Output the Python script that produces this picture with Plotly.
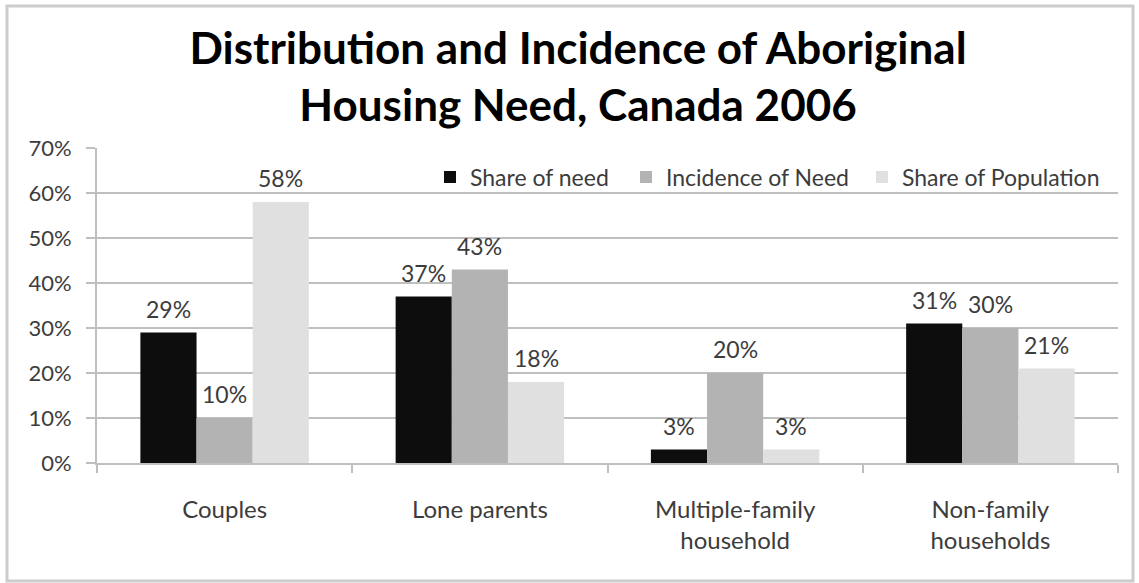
import plotly.graph_objects as go

# Household types (x categories) and the three series, in percent
categories = ["Couples", "Lone parents", "Multiple-family<br>household", "Non-family<br>households"]
share_of_need = [29, 37, 3, 31]
incidence_of_need = [10, 43, 20, 30]
share_of_population = [58, 18, 3, 21]

series_names = ["Share of need", "Incidence of Need", "Share of Population"]
series_values = [share_of_need, incidence_of_need, share_of_population]
series_colors = ["#0d0d0d", "#b3b3b3", "#e0e0e0"]

FONT = "Lato"
TEXT_COLOR = "#3c3c3c"
GRID_COLOR = "#bfbfbf"

W, H = 1139, 583
M_L, M_R, M_T, M_B = 97, 21, 148, 120
BARGAP = 0.34

plot_w = W - M_L - M_R
plot_h = H - M_T - M_B


def px_x(px):
    return (px - M_L) / plot_w


def px_y(py):
    return (H - M_B - py) / plot_h


# each series gets its own legend box so the entries can be spaced freely
legend_ids = ["legend", "legend2", "legend3"]
legend_left_px = [430, 626, 862]

fig = go.Figure()
for name, vals, col, lg in zip(series_names, series_values, series_colors, legend_ids):
    fig.add_trace(go.Bar(
        name=name, x=categories, y=vals, legend=lg, showlegend=True,
        marker=dict(color=col, line=dict(width=0)),
    ))

# value labels above each bar, offset horizontally to sit over their bar
cat_px = plot_w / len(categories)
bar_px = cat_px * (1 - BARGAP) / len(series_names)
annotations = []
for i, vals in enumerate(series_values):
    offset = (i - (len(series_names) - 1) / 2) * bar_px
    for cat, v in zip(categories, vals):
        annotations.append(dict(
            x=cat, y=v, xref="x", yref="y", text=f"{v}%", showarrow=False,
            xshift=offset, yshift=24, yanchor="middle",
            font=dict(family=FONT, size=23, color=TEXT_COLOR),
        ))

shapes = [
    # white backing behind the legend row, hiding the gridline it crosses
    dict(type="rect", xref="paper", yref="paper", layer="between",
         x0=px_x(412), x1=1.0, y0=px_y(198), y1=px_y(160),
         fillcolor="white", line=dict(width=0)),
    # outer frame of the chart
    dict(type="rect", xref="paper", yref="paper", layer="above",
         x0=px_x(7), x1=px_x(1133), y0=px_y(581), y1=px_y(6),
         fillcolor="rgba(0,0,0,0)", line=dict(color="#cccccc", width=3)),
]

legend_style = dict(
    orientation="h", xanchor="left", y=px_y(177), yanchor="middle",
    bgcolor="rgba(255,255,255,0)", font=dict(family=FONT, size=23, color=TEXT_COLOR),
    itemclick=False, itemdoubleclick=False, visible=True,
)

fig.update_layout(
    width=W, height=H,
    margin=dict(l=M_L, r=M_R, t=M_T, b=M_B),
    paper_bgcolor="white", plot_bgcolor="white",
    showlegend=True,
    barmode="group", bargap=BARGAP, bargroupgap=0,
    font=dict(family=FONT, size=22, color=TEXT_COLOR),
    title=dict(
        text="<b>Distribution and Incidence of Aboriginal<br>Housing Need, Canada 2006</b>",
        x=578 / W, xanchor="center", xref="container",
        y=1 - 64 / H, yanchor="top", yref="container",
        font=dict(family=FONT, size=44, color="#000000"),
    ),
    legend=dict(x=px_x(legend_left_px[0]), **legend_style),
    legend2=dict(x=px_x(legend_left_px[1]), **legend_style),
    legend3=dict(x=px_x(legend_left_px[2]), **legend_style),
    xaxis=dict(
        showline=True, linecolor=GRID_COLOR, linewidth=2,
        ticks="outside", tickson="boundaries", ticklen=8, tickcolor=GRID_COLOR, tickwidth=2,
        ticklabelstandoff=24, showgrid=False,
        tickfont=dict(family=FONT, size=24, color=TEXT_COLOR),
    ),
    yaxis=dict(
        range=[0, 70], tickmode="linear", tick0=0, dtick=10, ticksuffix="%",
        showgrid=True, gridcolor=GRID_COLOR, gridwidth=2,
        showline=True, linecolor=GRID_COLOR, linewidth=2,
        ticks="outside", ticklen=9, tickcolor=GRID_COLOR, tickwidth=2,
        ticklabelstandoff=10, zeroline=False,
        tickfont=dict(family=FONT, size=22, color=TEXT_COLOR),
    ),
    annotations=annotations,
    shapes=shapes,
)

fig.write_html("out.html")
